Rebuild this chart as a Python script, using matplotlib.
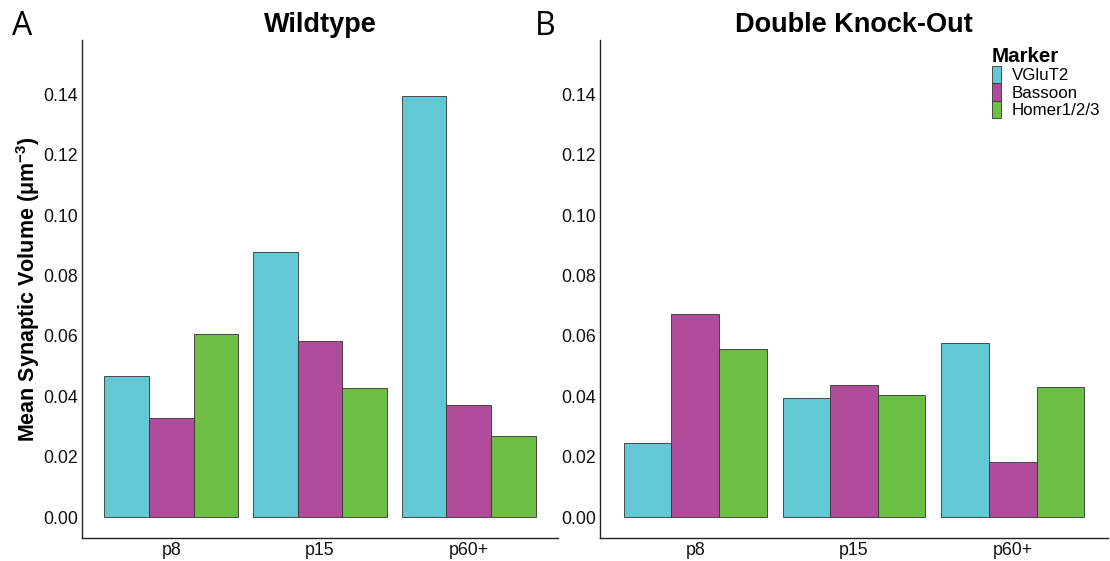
import matplotlib
matplotlib.use("Agg")
import matplotlib.pyplot as plt
import numpy as np

# data
ages = ["p8", "p15", "p60+"]
markers = ["VGluT2", "Bassoon", "Homer1/2/3"]
wildtype = {
    "VGluT2": [0.0467, 0.0877, 0.1394],
    "Bassoon": [0.0328, 0.0583, 0.0371],
    "Homer1/2/3": [0.0606, 0.0427, 0.0268],
}
dko = {
    "VGluT2": [0.0245, 0.0394, 0.0576],
    "Bassoon": [0.0672, 0.0437, 0.0182],
    "Homer1/2/3": [0.0556, 0.0404, 0.0430],
}
colors = {"VGluT2": "#62C8D3", "Bassoon": "#B04C9B", "Homer1/2/3": "#6CBE45"}
yticks = [0.00, 0.02, 0.04, 0.06, 0.08, 0.10, 0.12, 0.14]

plt.rcParams["font.family"] = ["Liberation Sans", "DejaVu Sans"]

fig = plt.figure(figsize=(11.1, 5.61), dpi=100)
ax1 = fig.add_axes([0.0739, 0.041, 0.4288, 0.8877])
ax2 = fig.add_axes([0.5405, 0.041, 0.4577, 0.8877])


def draw_panel(ax, data, title):
    x = np.arange(1, len(ages) + 1)
    w = 0.9 / len(markers)
    for i, m in enumerate(markers):
        ax.bar(x + (i - 1) * w, data[m], width=w, color=colors[m],
               edgecolor="#333333", linewidth=0.6, label=m)
    ax.set_xlim(0.4, 3.6)
    ax.set_ylim(-0.00695, 0.158)
    ax.set_xticks(x)
    ax.set_xticklabels(ages)
    ax.set_yticks(yticks)
    ax.set_yticklabels([f"{v:.2f}" for v in yticks])
    ax.tick_params(length=0, labelsize=12.8, colors="#111111", pad=3)
    for s in ["top", "right"]:
        ax.spines[s].set_visible(False)
    for s in ["left", "bottom"]:
        ax.spines[s].set_linewidth(1.0)
        ax.spines[s].set_color("#222222")
    ax.set_title(title, fontsize=19.5, fontweight="bold", pad=6)


draw_panel(ax1, wildtype, "Wildtype")
draw_panel(ax2, dko, "Double Knock-Out")

ax1.set_ylabel(r"Mean Synaptic Volume ($\mathregular{\mu m^{-3}}$)",
               fontsize=15.5, fontweight="bold", labelpad=1)

# panel letters
fig.text(0.0108, 0.9376, "A", fontsize=23, family="Open Sans", va="baseline")
fig.text(0.482, 0.9376, "B", fontsize=23, family="Open Sans", va="baseline")

leg = ax2.legend(loc="upper left", bbox_to_anchor=(0.755, 1.003),
                 frameon=False, title="Marker", fontsize=12.2, borderpad=0,
                 handlelength=0.55, handleheight=1.2, labelspacing=0.0,
                 handletextpad=0.6, alignment="left")
leg.get_title().set_fontweight("bold")
leg.get_title().set_fontsize(14.8)

fig.savefig("out.png", dpi=100, facecolor="white")
